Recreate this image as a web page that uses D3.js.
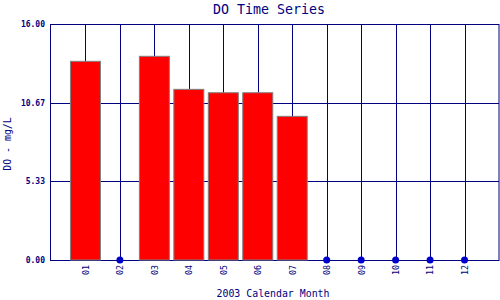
<!DOCTYPE html>
<html>
<head>
<meta charset="utf-8">
<script src="https://cdn.jsdelivr.net/npm/d3@7"></script>
<style>
  html, body { margin: 0; padding: 0; background: #fff; }
  svg { display: block; }
</style>
</head>
<body>
<svg id="chart" width="500" height="300"></svg>
<script>
const months = ["01","02","03","04","05","06","07","08","09","10","11","12"];
const doValues = [13.47, null, 13.81, 11.57, 11.34, 11.34, 9.74, null, null, null, null, null];
const yTicks = [0, 16/3, 32/3, 16];
const title = "DO Time Series";
const xTitle = "2003 Calendar Month";
const yTitle = "DO - mg/L";

const navy = "#000080";
const svg = d3.select("#chart");
const pLeft = 50, pRight = 499, pTop = 24, pBottom = 260;

const x = d3.scaleLinear().domain([0, 13]).range([51, 499]);
const y = d3.scaleLinear().domain([0, 16]).range([pBottom, pTop]);

// horizontal grid + y tick labels
const yAxis = d3.axisLeft(y).tickValues(yTicks).tickFormat(d3.format(".2f"))
  .tickSize(-(pRight - pLeft)).tickPadding(5);
const gy = svg.append("g").attr("transform", `translate(${pLeft},0)`).call(yAxis);
gy.select(".domain").remove();
gy.selectAll(".tick line").attr("stroke", navy).attr("stroke-width", 1).attr("shape-rendering", "crispEdges");
gy.selectAll(".tick text").attr("fill", navy).attr("font-family", "DejaVu Sans Mono")
  .attr("font-size", 8).attr("font-weight", "bold");

// vertical grid + x tick labels
const xAxis = d3.axisBottom(x).tickValues(d3.range(1, 13)).tickFormat(d => months[d - 1])
  .tickSize(-(pBottom - pTop)).tickPadding(0);
const gx = svg.append("g").attr("transform", `translate(0,${pBottom})`).call(xAxis);
gx.select(".domain").remove();
gx.selectAll(".tick line").attr("stroke", navy).attr("stroke-width", 1).attr("shape-rendering", "crispEdges");
gx.selectAll(".tick text")
  .attr("fill", navy).attr("font-family", "DejaVu Sans Mono").attr("font-size", 8.3)
  .attr("text-anchor", "end").attr("y", 0).attr("dy", "0.35em")
  .attr("transform", "translate(0,5) rotate(-90)");

// frame
svg.append("rect").attr("x", pLeft + 0.5).attr("y", pTop + 0.5)
  .attr("width", pRight - pLeft - 0.5).attr("height", pBottom - pTop)
  .attr("fill", "none").attr("stroke", navy).attr("stroke-width", 1);

// bars
const data = months.map((m, i) => ({ m: i + 1, v: doValues[i] }));
const bw = 30;
svg.append("g").selectAll("rect").data(data.filter(d => d.v != null)).join("rect")
  .attr("x", d => x(d.m) - bw / 2).attr("width", bw)
  .attr("y", d => y(d.v)).attr("height", d => y(0) - y(d.v))
  .attr("fill", "#ff0000").attr("stroke", "#808080").attr("stroke-width", 1);

// missing-value markers
svg.append("g").selectAll("circle").data(data.filter(d => d.v == null)).join("circle")
  .attr("cx", d => x(d.m)).attr("cy", y(0)).attr("r", 3.5).attr("fill", "#0000cc");

// titles
svg.append("text").attr("x", 269).attr("y", 13.5).attr("text-anchor", "middle")
  .attr("font-family", "DejaVu Sans Mono").attr("font-size", 13.3).attr("fill", navy).text(title);
svg.append("text").attr("x", 273).attr("y", 297).attr("text-anchor", "middle")
  .attr("font-family", "DejaVu Sans Mono").attr("font-size", 9.9).attr("fill", navy).text(xTitle);
svg.append("text").attr("transform", "translate(11,144) rotate(-90)").attr("text-anchor", "middle")
  .attr("font-family", "DejaVu Sans Mono").attr("font-size", 9.9).attr("fill", navy).text(yTitle);
</script>
</body>
</html>
